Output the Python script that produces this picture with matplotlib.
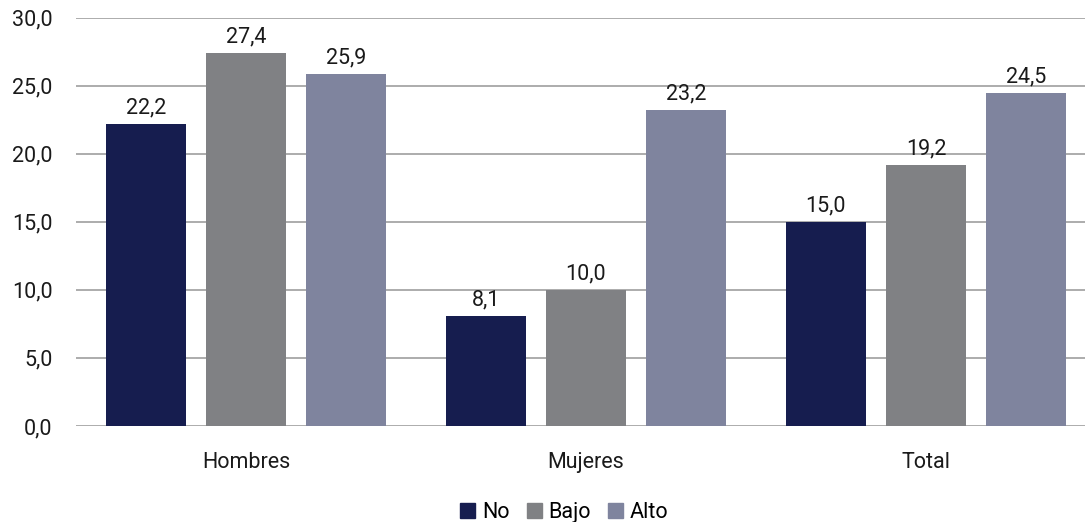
"""Bar chart: No / Bajo / Alto by sex"""

import numpy as np
import matplotlib.pyplot as plt
from matplotlib.patches import Patch

categories = ["Hombres", "Mujeres", "Total"]
series_names = ["No", "Bajo", "Alto"]
no_vals = [22.2, 8.1, 15.0]
bajo_vals = [27.4, 10.0, 19.2]
alto_vals = [25.9, 23.2, 24.5]
y_ticks = [0, 5, 10, 15, 20, 25, 30]

colors = ["#161D4F", "#808184", "#7F849E"]

plt.rcParams["font.family"] = ["Roboto", "DejaVu Sans"]
fs = 15.5

fig = plt.figure(figsize=(10.85, 5.22), dpi=100)
ax = fig.add_axes([0.070, 0.184, 0.930, 0.782])

x = np.arange(len(categories))
width = 80 / 340
step = 100 / 340
for i, (name, vals) in enumerate(zip(series_names, [no_vals, bajo_vals, alto_vals])):
    pos = x + (i - 1) * step
    ax.bar(pos, vals, width, color=colors[i], zorder=3)
    for p, v in zip(pos, vals):
        ax.annotate(f"{v:.1f}".replace(".", ","), (p, v), xytext=(0, 4),
                    textcoords="offset points", ha="center", va="bottom",
                    fontsize=fs, color="#1a1a1a")

ax.set_ylim(0, 30)
ax.set_xlim(-0.5, 2.468)
ax.set_yticks(y_ticks)
ax.set_yticklabels([f"{t:.1f}".replace(".", ",") for t in y_ticks])
ax.set_xticks(x)
ax.set_xticklabels(categories)
ax.tick_params(axis="both", length=0, labelsize=fs, labelcolor="#1a1a1a")
ax.tick_params(axis="y", pad=17)
ax.tick_params(axis="x", pad=19)
ax.yaxis.grid(True, color="#A6A6A6", linewidth=1.3, zorder=0)
for s in ax.spines.values():
    s.set_visible(False)

handles = [Patch(color=c, label=n) for c, n in zip(colors, series_names)]
fig.legend(handles=handles, loc="center", bbox_to_anchor=(0.52, 0.018), ncol=3,
           frameon=False, fontsize=fs, handlelength=0.7, handleheight=0.7,
           handletextpad=0.3, columnspacing=0.8)

fig.savefig("out.png", dpi=100)
